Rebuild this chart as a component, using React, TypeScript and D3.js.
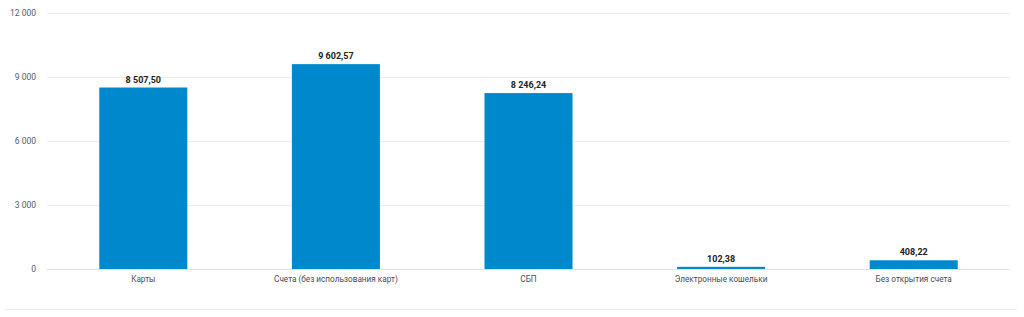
import React from "react";
import * as d3 from "d3";

const categories = ["Карты", "Счета (без использования карт)", "СБП", "Электронные кошельки", "Без открытия счета"];
const values = [8507.5, 9602.57, 8246.24, 102.38, 408.22];
const valueLabels = ["8 507,50", "9 602,57", "8 246,24", "102,38", "408,22"];
const yTicks = [0, 3000, 6000, 9000, 12000];
const yTickLabels = ["0", "3 000", "6 000", "9 000", "12 000"];

const W = 1024;
const H = 317;
const left = 47;
const right = 1010;
const top = 13;
const bottom = 269;

export default function App() {
  const x = d3.scaleBand<string>().domain(categories).range([left, right]).paddingInner(0.543).paddingOuter(0.2715);
  const y = d3.scaleLinear().domain([0, 12000]).range([bottom, top]);
  const font = "Roboto, 'DejaVu Sans', sans-serif";
  return (
    <svg width={W} height={H} style={{ position: "absolute", left: 0, top: 0, display: "block" }}>
      <rect x={0} y={0} width={W} height={H} fill="#fff" />
      {yTicks.map((t, i) => (
        <g key={t}>
          {t !== 0 && (
            <line x1={left} x2={right} y1={y(t) + 0.5} y2={y(t) + 0.5} stroke="#ececf0" strokeWidth={1} />
          )}
          <text x={36} y={y(t) + 3} textAnchor="end" fontSize={8.5} fill="#555a66" fontFamily={font}>
            {yTickLabels[i]}
          </text>
        </g>
      ))}
      {categories.map((c, i) => (
        <g key={c}>
          <rect x={x(c)} y={y(values[i])} width={x.bandwidth()} height={bottom - y(values[i])} fill="#0088cc" />
          <text
            x={(x(c) as number) + x.bandwidth() / 2}
            y={y(values[i]) - 5}
            textAnchor="middle"
            fontSize={9}
            fontWeight="bold"
            fill="#222"
            fontFamily={font}
          >
            {valueLabels[i]}
          </text>
          <text
            x={(x(c) as number) + x.bandwidth() / 2}
            y={bottom + 13}
            textAnchor="middle"
            fontSize={8.2}
            fill="#4a4a5a"
            fontFamily={font}
          >
            {c}
          </text>
        </g>
      ))}
      <line x1={left} x2={right} y1={bottom + 0.5} y2={bottom + 0.5} stroke="#dde0ee" strokeWidth={1} />
      <line x1={5} x2={1017} y1={309.5} y2={309.5} stroke="#ececf0" strokeWidth={1} />
    </svg>
  );
}
